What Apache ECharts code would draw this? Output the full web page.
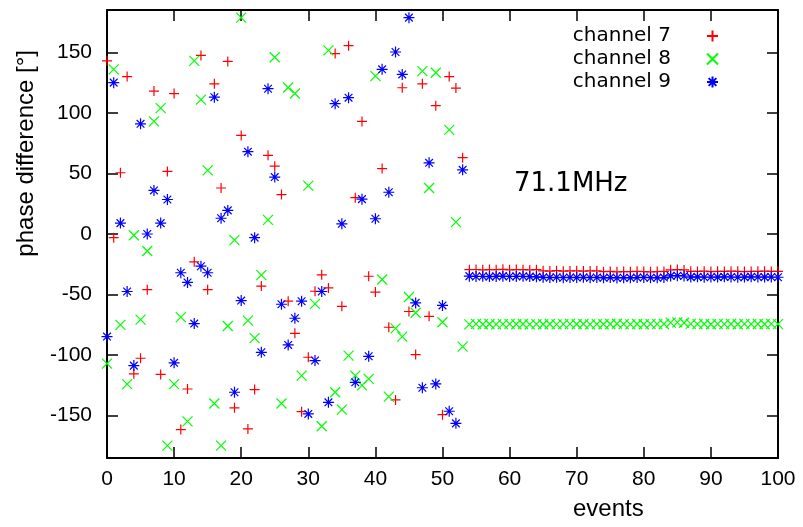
<!DOCTYPE html>
<html>
<head>
<meta charset="utf-8">
<script src="https://cdn.jsdelivr.net/npm/echarts@6.0.0/dist/echarts.min.js"></script>
<style>
  html, body { margin: 0; padding: 0; background: #fff; }
  #chart { width: 803px; height: 527px; }
</style>
</head>
<body>
<div id="chart"></div>
<script>
  // Scattered phases, events 0..53
  var ch7Scatter = [143, -3, 50.6, 130, -115.5, -102.6, -46, 118, -116, 51.7,
    116, -161.5, -128, -23, 147.5, -46, 124, 38, 142.5, -143.6,
    81.4, -161, -128.5, -43, 65, 56, 32.6, -55.5, -82, -146.7,
    -101.8, -47.3, -33.7, -44.5, 149, -59.7, 155.5, 30, 93, -34.9,
    -48, 54, -77, -137, 120.8, -64, -99.6, 124, -68, 106,
    -149.2, 130, 120.5, 63];
  var ch8Scatter = [-107, 136, -75, -124, -1, -70.7, -14, 93, 104, -174.8,
    -124, -68.7, -154.7, 143, 111, 52.5, -140, -174.8, -76, -5,
    178.7, -71.5, -86, -34, 11.7, 146, -140, 121, 116, -117,
    40, -57.7, -158.8, 151.7, -130.7, -145, -100.4, -117, -125, -119.7,
    130.4, -37.6, -134.3, -78, -84.7, -52, -65, 134.5, 38, 133.2,
    -72.9, 86, 9.8, -93];
  var ch9Scatter = [-84.7, 125, 9, -47.5, -108.7, 91, 0, 36, 9, 28.5,
    -106.4, -32, -40, -74, -26.6, -32, 113, 13, 19.5, -130.7,
    -55, 68, -3, -97.7, 120, 47, -58, -91.6, -69.6, -55.5,
    -148.6, -104.5, -47.5, -139, 107.6, 8.4, 112.6, -122.5, 28.8, -101,
    12.6, 136, 34.5, 150.3, 131.8, 178.7, -56.9, -127, 58.8, -123.8,
    -59, -146.4, -156.4, 53];

  // Locked phases, events 54..100
  var ch7Locked = [-29.5, -29.3, -29.6, -29.4, -29.5, -29.2, -29.6, -29.4, -29.5, -29.7, -29.5,
    -30.4, -30.6, -30.3, -30.7, -30.5, -30.4, -30.6, -30.5, -30.4,
    -31.1, -30.9, -31.2, -31, -31.1, -30.8, -31, -31.2, -31, -30.9,
    -29.6, -29.4, -29.7,
    -30.8, -30.9, -30.7, -31, -30.8, -30.9, -30.7, -30.8, -31, -30.9, -30.8, -30.7, -30.9, -30.8];
  var ch8Locked = [-74.6, -74.2, -74.5, -74.3, -74.6, -74.4, -74.2, -74.5, -74.3, -74.6, -74.4,
    -74.5, -74.3, -74.6, -74.4, -74.2, -74.5, -74.3, -74.6, -74.4,
    -74.5, -74.3, -74.1, -74.4, -74.6, -74.3, -74.5, -74.2, -74.4, -74.3,
    -73.2, -73, -73.3,
    -74.2, -74.4, -74.3, -74.5, -74.2, -74.4, -74.3, -74.5, -74.2, -74.4, -74.3, -74.5, -74.2, -74.4];
  var ch9Locked = [-34.8, -35.1, -34.9, -35.2, -35, -34.8, -35.1, -35, -34.9, -35.2, -35.4,
    -35.8, -36, -35.7, -36.1, -35.9, -36, -35.8, -36.1, -35.9,
    -36.2, -36, -36.3, -36.1, -36.2, -36, -35.9, -36.1, -36.2, -36,
    -34.6, -34.4, -34.7,
    -35.6, -35.4, -35.7, -35.5, -35.6, -35.4, -35.5, -35.7, -35.6, -35.4, -35.5, -35.6, -35.5, -35.7];

  var channelNames = ['channel 7', 'channel 8', 'channel 9'];
  var yTicks = [-150, -100, -50, 0, 50, 100, 150];

  var colors = ['#ff0000', '#00ff00', '#0000ff'];
  var symbols = [
    'path://M0,5L10,5M5,0L5,10',
    'path://M0,0L10,10M0,10L10,0',
    'path://M0,5L10,5M5,0L5,10M1.5,1.5L8.5,8.5M1.5,8.5L8.5,1.5'
  ];
  var sizes = [10, 10, 11];

  function toPoints(scatter, locked) {
    var vals = scatter.concat(locked);
    return vals.map(function (v, i) { return [i, v]; });
  }
  var channelData = [
    toPoints(ch7Scatter, ch7Locked),
    toPoints(ch8Scatter, ch8Locked),
    toPoints(ch9Scatter, ch9Locked)
  ];

  var labelFont = '"Liberation Sans", Arial, sans-serif';
  var keyFont = '"DejaVu Sans", sans-serif';

  var chart = echarts.init(document.getElementById('chart'));

  var frameLine = { show: true, onZero: false, lineStyle: { color: '#000', width: 2 } };
  var tickIn = { show: true, inside: true, length: 11, lineStyle: { color: '#000', width: 1.5 } };

  var option = {
    backgroundColor: '#fff',
    animation: false,
    grid: { left: 107, right: 25, top: 10, bottom: 69 },
    legend: {
      orient: 'vertical',
      right: 79,
      top: 20,
      align: 'right',
      itemWidth: 11,
      itemHeight: 11,
      itemGap: 1,
      selectedMode: false,
      data: channelNames,
      textStyle: { fontFamily: keyFont, fontSize: 20, color: '#000', lineHeight: 22, padding: [0, 31, 0, 0] }
    },
    xAxis: [{
      type: 'value', min: 0, max: 100, interval: 10,
      axisLine: frameLine, axisTick: tickIn, splitLine: { show: false },
      axisLabel: { color: '#000', fontFamily: labelFont, fontSize: 21, margin: 11 }
    }, {
      type: 'value', position: 'top', min: 0, max: 100, interval: 10,
      axisLine: frameLine, axisTick: tickIn, splitLine: { show: false },
      axisLabel: { show: false }
    }],
    yAxis: [{
      type: 'value', min: -185, max: 185,
      axisLine: frameLine,
      axisTick: { show: true, inside: true, length: 11, lineStyle: { color: '#000', width: 1.5 }, customValues: yTicks },
      splitLine: { show: false },
      axisLabel: { color: '#000', fontFamily: labelFont, fontSize: 21, margin: 15, customValues: yTicks }
    }, {
      type: 'value', position: 'right', min: -185, max: 185,
      axisLine: frameLine,
      axisTick: { show: true, inside: true, length: 11, lineStyle: { color: '#000', width: 1.5 }, customValues: yTicks },
      splitLine: { show: false },
      axisLabel: { show: false }
    }],
    graphic: [{
      type: 'text', left: 573, top: 497,
      style: { text: 'events', fontFamily: labelFont, fontSize: 24, fill: '#000' }
    }, {
      type: 'text', left: 14, top: 50, rotation: Math.PI / 2,
      style: { text: 'phase difference [°]', fontFamily: labelFont, fontSize: 24, fill: '#000' }
    }, {
      type: 'text', left: 514, top: 171,
      style: { text: '71.1MHz', fontFamily: keyFont, fontSize: 26, fill: '#000' }
    }],
    series: channelNames.map(function (name, k) {
      return {
        name: name,
        type: 'scatter',
        data: channelData[k],
        symbol: symbols[k],
        symbolSize: sizes[k],
        itemStyle: { color: colors[k], borderColor: colors[k], borderWidth: 1.2, opacity: 1 },
        emphasis: { disabled: true }
      };
    })
  };

  chart.setOption(option);
</script>
</body>
</html>
